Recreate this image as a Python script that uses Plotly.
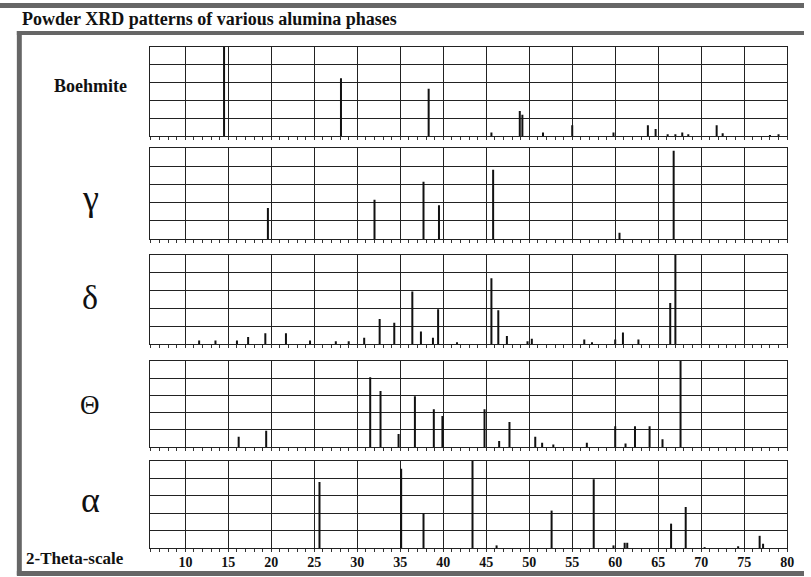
import plotly.graph_objects as go

# ---------------- data ----------------
phase_labels = ["Boehmite", "γ", "δ", "Θ", "α"]

boehmite_2theta = [14.5, 28.1, 38.3, 45.6, 48.9, 49.2, 51.6, 55.0, 59.8, 63.8, 64.7,
                   66.1, 67.0, 67.8, 68.5, 71.8, 72.5, 78.0, 79.0]
boehmite_int = [100, 65, 53, 4, 28, 24, 4, 12, 4, 12, 8, 2, 2, 4, 2, 12, 3, 1, 2]

gamma_2theta = [19.6, 32.0, 37.7, 39.5, 45.8, 60.5, 66.8]
gamma_int = [34, 43, 63, 37, 76, 7, 97]

delta_2theta = [11.6, 13.5, 16.0, 17.3, 19.3, 21.7, 24.5, 27.5, 29.0, 30.8, 32.6, 34.3,
                36.4, 37.4, 38.8, 39.4, 41.6, 45.6, 46.4, 47.4, 49.8, 50.3, 56.4, 57.3,
                60.0, 60.9, 62.7, 66.4, 67.0]
delta_int = [4, 4, 4, 8, 12, 12, 4, 3, 3, 7, 28, 24, 59, 14, 7, 39, 2, 74, 38, 9, 3, 6,
             5, 2, 5, 13, 5, 46, 100]

theta_2theta = [16.2, 19.4, 31.5, 32.7, 34.8, 36.7, 38.9, 39.9, 44.8, 46.5, 47.7, 50.7,
                51.5, 52.8, 56.7, 60.0, 61.2, 62.3, 64.0, 65.5, 67.6]
theta_int = [12, 19, 81, 65, 15, 59, 44, 36, 44, 7, 29, 12, 5, 3, 5, 24, 4, 24, 24, 9, 100]

alpha_2theta = [25.6, 35.1, 37.7, 43.4, 46.2, 52.6, 57.5, 59.8, 61.1, 61.4, 66.5, 68.2,
                70.4, 74.3, 76.8, 77.2]
alpha_int = [76, 91, 40, 100, 3, 43, 79, 3, 6, 6, 28, 47, 1, 2, 14, 5]

x_tick_values = [10, 15, 20, 25, 30, 35, 40, 45, 50, 55, 60, 65, 70, 75, 80]
x_tick_labels = ["10", "15", "20", "25", "30", "35", "40", "45", "50", "55", "60",
                 "65", "70", "75", "80"]

series = [(boehmite_2theta, boehmite_int), (gamma_2theta, gamma_int),
          (delta_2theta, delta_int), (theta_2theta, theta_int),
          (alpha_2theta, alpha_int)]

# ---------------- layout helpers ----------------
W, H = 811, 577
X_RANGE = [5.85, 80]
PLOT_LEFT, PLOT_RIGHT = 151, 794
PANELS_PX = [(47, 136), (148, 239), (255, 344), (361, 447), (461, 548)]
LABEL_Y_PX = [86, 198, 297, 405, 500]
LABEL_SIZES = [18, 36, 34, 27, 36]


def px_x(x):
    return x / W


def px_y(y):
    return 1 - y / H


def sticks(pos, inten):
    xs, ys = [], []
    for p, v in zip(pos, inten):
        xs += [p, p, None]
        ys += [0, v, None]
    return xs, ys


fig = go.Figure()
layout_axes = {}
n = len(series)
for i, (pos, inten) in enumerate(series):
    k = "" if i == 0 else str(i + 1)
    xs, ys = sticks(pos, inten)
    fig.add_trace(go.Scatter(x=xs, y=ys, mode="lines",
                             line=dict(color="#111111", width=2),
                             xaxis="x" + k, yaxis="y" + k,
                             hoverinfo="skip", showlegend=False))
    top, bot = PANELS_PX[i]
    bottom_panel = (i == n - 1)
    layout_axes["xaxis" + k] = dict(
        domain=[px_x(PLOT_LEFT), px_x(PLOT_RIGHT)], range=X_RANGE,
        anchor="y" + k, tickmode="array", tickvals=x_tick_values,
        ticktext=x_tick_labels, showticklabels=bottom_panel,
        showgrid=True, gridcolor="#222222", gridwidth=1,
        showline=True, mirror=True, linecolor="#222222", linewidth=1.4,
        ticks="outside", ticklen=3, tickcolor="#333333", tickwidth=1,
        minor=dict(dtick=1, tick0=0, ticks="outside", ticklen=3,
                   tickcolor="#333333", showgrid=False),
        zeroline=False, fixedrange=True, ticklabelstandoff=-2,
        tickfont=dict(family="Liberation Serif", size=14, color="#111111",
                      weight="bold"),
    )
    layout_axes["yaxis" + k] = dict(
        domain=[px_y(bot), px_y(top)], range=[0, 100], anchor="x" + k,
        dtick=20, tick0=0, showgrid=True, gridcolor="#222222", gridwidth=1,
        showline=True, mirror=True, linecolor="#222222", linewidth=1.4,
        showticklabels=False, ticks="", zeroline=False, fixedrange=True,
    )

annotations = [
    dict(text="<b>Powder XRD patterns of various alumina phases</b>",
         x=px_x(20), y=px_y(19), xref="paper", yref="paper",
         xanchor="left", yanchor="middle", showarrow=False,
         font=dict(family="Liberation Serif", size=18, color="#111111")),
    dict(text="<b>2-Theta-scale</b>",
         x=px_x(76), y=px_y(558), xref="paper", yref="paper",
         xanchor="center", yanchor="middle", showarrow=False,
         font=dict(family="Liberation Serif", size=17, color="#111111")),
]
for i, lab in enumerate(phase_labels):
    txt = "<b>%s</b>" % lab if i == 0 else lab
    annotations.append(dict(
        text=txt, x=px_x(91), y=px_y(LABEL_Y_PX[i]), xref="paper", yref="paper",
        xanchor="center", yanchor="middle", showarrow=False,
        font=dict(family="Liberation Serif", size=LABEL_SIZES[i], color="#111111")))

frame_color = "#666666"
shapes = [
    dict(type="rect", xref="paper", yref="paper", x0=0, x1=1,
         y0=px_y(8), y1=px_y(3), fillcolor=frame_color, line=dict(width=0)),
    dict(type="rect", xref="paper", yref="paper", x0=px_x(17), x1=1,
         y0=px_y(35), y1=px_y(31), fillcolor=frame_color, line=dict(width=0)),
    dict(type="rect", xref="paper", yref="paper", x0=px_x(17), x1=px_x(22),
         y0=px_y(575), y1=px_y(31), fillcolor=frame_color, line=dict(width=0)),
    dict(type="rect", xref="paper", yref="paper", x0=px_x(17), x1=1,
         y0=px_y(576), y1=px_y(571), fillcolor=frame_color, line=dict(width=0)),
]

fig.update_layout(
    width=W, height=H, autosize=False,
    margin=dict(l=0, r=0, t=0, b=0, pad=0),
    paper_bgcolor="white", plot_bgcolor="white",
    font=dict(family="Liberation Serif", color="#111111"),
    annotations=annotations, shapes=shapes, showlegend=False,
    **layout_axes,
)

fig.write_html(
    "out.html", config={"displayModeBar": False},
    post_script="document.body.style.margin='0';document.body.style.overflow='hidden';",
)
